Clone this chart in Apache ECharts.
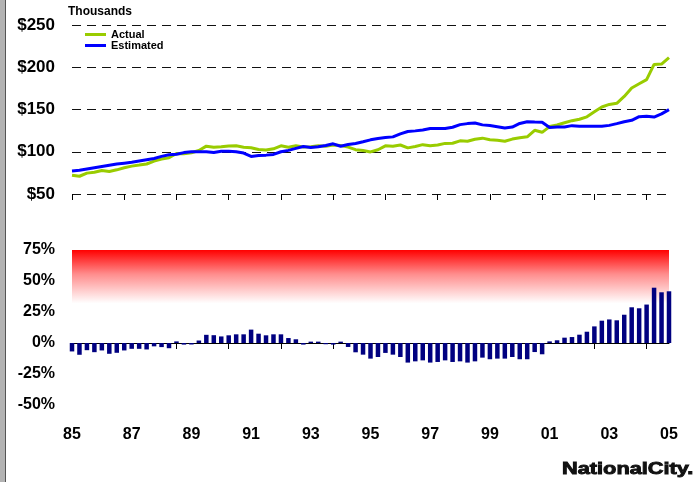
<!DOCTYPE html>
<html><head><meta charset="utf-8">
<script src="https://cdn.jsdelivr.net/npm/echarts@6/dist/echarts.min.js"></script>
<style>html,body{margin:0;padding:0;background:#fff}#c{width:695px;height:482px}</style>
</head><body><div id="c"></div>
<script>
// Quarterly categories 1985Q1 .. 2005Q1
const startYear = 1985;
const quarterCount = 81;
const quarters = [];
for (let i = 0; i < quarterCount; i++) quarters.push((startYear + Math.floor(i / 4)) + 'Q' + (i % 4 + 1));

// Home prices, thousands of dollars
const actual = [
  72.3, 71, 74.7, 75.8, 77.8, 76.6, 78.6, 81, 83, 84.2,
  85.5, 89, 91.4, 93, 98, 97.7, 98.8, 101.5, 106.6, 105.3,
  105.8, 106.8, 107, 105.4, 104.7, 102.7, 102, 103.5, 107, 105.3,
  107, 105.5, 106, 107, 106.5, 108, 107.3, 105.5, 102.5, 101.4,
  99.8, 102.4, 107, 106.6, 108, 104.6, 106.2, 108.4, 107.2, 107.9,
  109.9, 110, 112.9, 112.5, 114.8, 116.1, 114.1, 113.5, 112.5, 115,
  116.6, 117.7, 125.4, 123, 129.8, 131.7, 134.3, 136.8, 138.5, 141.3,
  147.2, 153, 156, 157.3, 165.5, 175.5, 180.5, 185.3, 203.3, 203.8,
  211.5
];
const estimated = [
  77.3, 78, 79.5, 81, 82.5, 84, 85.5, 86.5, 87.5, 89,
  90.5, 92, 94.5, 96.5, 97, 99, 100, 100, 100, 99,
  100.5, 100.5, 100, 98.5, 94.5, 95.5, 96, 96.8, 100, 101.6,
  104, 106.3, 105, 105.9, 107.4, 109.4, 106.5, 108.6, 109.8, 111.8,
  114.1, 115.7, 116.8, 117.6, 121.2, 123.9, 124.7, 125.8, 127.4, 127.4,
  127.4, 129, 132.1, 133.3, 134.1, 131.8, 131, 129.7, 128.2, 129.2,
  133.5, 135.6, 135.2, 135, 128.8, 129.3, 129.3, 130.9, 130.2, 130.1,
  130.1, 130.1, 131.2, 133.3, 135.5, 137.2, 141.5, 141.9, 141, 144.8,
  149.8
];
// Over/under valuation, percent
const valuationGap = [
  -6.8, -9.5, -5.8, -7.4, -6, -8.7, -7.9, -6, -4.7, -4.7,
  -5.2, -2.7, -3.3, -4.2, 1.3, -1.3, -1.2, 2, 6.6, 6.3,
  5.3, 6.2, 7, 7, 10.8, 7.5, 6.2, 7, 7, 4,
  3, -1.3, 1.1, 1.1, -1, -1.3, 1.1, -3.2, -7.5, -9.4,
  -12.6, -11.3, -8, -9.4, -11.3, -15.8, -14.8, -14, -15.8, -15.3,
  -14, -15.3, -14.8, -15.8, -14.8, -11.8, -13.1, -12.6, -12.6, -11.3,
  -13.1, -13.1, -7.3, -9.1, 1.3, 2.2, 4.3, 4.8, 6.7, 9.1,
  13.4, 18, 19, 18.3, 22.8, 28.8, 28, 31, 44.6, 40.9,
  41.7
];
const priceAxis = { min: 50, max: 250, step: 50 };
const pctAxis = { min: -50, max: 75, step: 25 };
const dangerZone = [32, 75];

const FONT = 'Liberation Sans';
const chart = echarts.init(document.getElementById('c'));
chart.setOption({
  animation: false,
  backgroundColor: '#fff',
  grid: [
    { left: 72, right: 26, top: 25, height: 169 },
    { left: 72, right: 26, top: 250, height: 155 }
  ],
  legend: {
    left: 85, top: 29, orient: 'vertical', padding: 0, itemGap: 0,
    itemWidth: 21, itemHeight: 3, icon: 'rect',
    textStyle: { fontFamily: FONT, fontSize: 11, fontWeight: 'bold', color: '#000', lineHeight: 10 },
    data: ['Actual', 'Estimated']
  },
  xAxis: [
    { type: 'category', gridIndex: 0, data: quarters, boundaryGap: false,
      axisLine: { show: false },
      axisTick: { show: true, interval: 6, length: 6, lineStyle: { color: '#000' } },
      axisLabel: { show: false }, splitLine: { show: false } },
    { type: 'category', gridIndex: 1, data: quarters, boundaryGap: false, position: 'bottom',
      axisLine: { show: true, onZero: true, lineStyle: { color: '#000', width: 1 } },
      axisTick: { show: true, interval: 6, length: 6, lineStyle: { color: '#000' } },
      axisLabel: { show: false }, splitLine: { show: false } },
    { type: 'category', gridIndex: 1, data: quarters, boundaryGap: false, position: 'bottom',
      axisLine: { show: false, onZero: false }, axisTick: { show: false },
      axisLabel: { show: true, interval: 7, margin: 22, fontFamily: FONT, fontSize: 16, fontWeight: 'bold', color: '#000',
        formatter: v => v.slice(2, 4) },
      splitLine: { show: false } }
  ],
  yAxis: [
    { type: 'value', gridIndex: 0, min: priceAxis.min, max: priceAxis.max, interval: priceAxis.step,
      axisLine: { show: false }, axisTick: { show: false },
      axisLabel: { margin: 17, fontFamily: FONT, fontSize: 17, fontWeight: 'bold', color: '#000', formatter: v => '$' + v },
      splitLine: { show: true, lineStyle: { color: '#111', width: 1, type: [9, 6] } } },
    { type: 'value', gridIndex: 1, min: pctAxis.min, max: pctAxis.max, interval: pctAxis.step,
      axisLine: { show: false }, axisTick: { show: false },
      axisLabel: { margin: 17, fontFamily: FONT, fontSize: 16, fontWeight: 'bold', color: '#000', formatter: v => v + '%' },
      splitLine: { show: false } }
  ],
  series: [
    { name: 'Actual', type: 'line', xAxisIndex: 0, yAxisIndex: 0, data: actual, symbol: 'none',
      lineStyle: { color: '#99cc00', width: 3 }, itemStyle: { color: '#99cc00' }, z: 3 },
    { name: 'Estimated', type: 'line', xAxisIndex: 0, yAxisIndex: 0, data: estimated, symbol: 'none',
      lineStyle: { color: '#0000ff', width: 3 }, itemStyle: { color: '#0000ff' }, z: 4 },
    { name: 'Gap', type: 'bar', xAxisIndex: 1, yAxisIndex: 1, data: valuationGap, barWidth: 4.5, clip: false,
      itemStyle: { color: '#000080' }, z: 5,
      markArea: { silent: true, z: 1,
        itemStyle: { color: { type: 'linear', x: 0, y: 0, x2: 0, y2: 1,
          colorStops: [{ offset: 0, color: '#ff0000' }, { offset: 0.45, color: '#ff8c8c' }, { offset: 1, color: '#ffffff' }] } },
        data: [[{ yAxis: dangerZone[1] }, { yAxis: dangerZone[0] }]] } }
  ],
  graphic: [
    { type: 'rect', shape: { x: 0, y: 0, width: 5, height: 482 }, style: { fill: '#b3b3b3' } },
    { type: 'line', shape: { x1: 5.5, y1: 0, x2: 5.5, y2: 482 }, style: { stroke: '#555', lineWidth: 1 } },
    { type: 'text', left: 68, top: 6, style: { text: 'Thousands', font: 'bold 12px "Liberation Sans"', fill: '#000' } },
    { type: 'text', x: 562, y: 461, scaleX: 1.28, style: { text: 'NationalCity.', font: 'bold 17px "Liberation Sans"', fill: '#111', stroke: '#111', lineWidth: 0.9 } }
  ]
});
</script></body></html>
